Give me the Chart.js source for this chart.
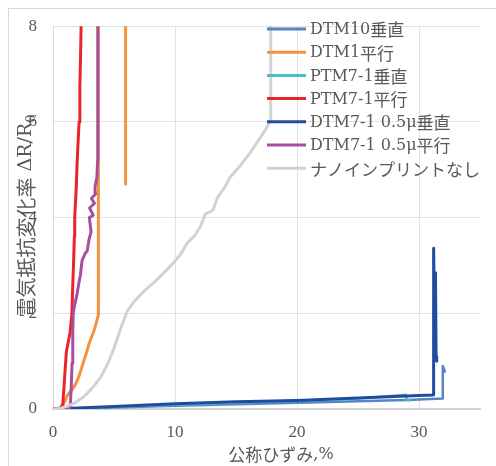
<!DOCTYPE html>
<html>
<head>
<meta charset="utf-8">
<script src="https://cdn.jsdelivr.net/npm/chart.js@4.4.1/dist/chart.umd.min.js"></script>
<style>
  html, body { margin: 0; padding: 0; background: #ffffff; }
  #wrap { width: 496px; height: 466px; position: relative; }
  canvas { display: block; }
</style>
</head>
<body>
<div id="wrap"><canvas id="c" width="496" height="466"></canvas></div>
<script>
// ---- Data ----
const seriesNames = ["DTM10垂直", "DTM1平行", "PTM7-1垂直", "PTM7-1平行", "DTM7-1 0.5μ垂直", "DTM7-1 0.5μ平行", "ナノインプリントなし"];
const xTicks = [0, 10, 20, 30];
const yTicks = [0, 2, 4, 6, 8];

const dtm10PerpX = [0, 1, 5, 10, 15, 20, 25, 29, 31.9, 31.95, 32.15];
const dtm10PerpY = [0, 0.0, 0.03, 0.07, 0.1, 0.13, 0.16, 0.19, 0.22, 0.9, 0.76];

const dtm1ParX = [0, 0.5, 0.75, 0.95, 1.2, 1.56, 1.85, 2.1, 2.3, 2.52, 2.75, 2.93, 3.15, 3.34, 3.55, 3.7, 3.72, 3.72, 5.95, 5.95];
const dtm1ParY = [0, 0.01, 0.05, 0.15, 0.3, 0.4, 0.52, 0.66, 0.82, 1.0, 1.18, 1.35, 1.5, 1.62, 1.8, 1.95, 2.05, 9, 9, 4.7];

const ptm71PerpX = [0, 1, 5, 10, 15, 20, 25, 28.5, 28.9, 29.0, 29.3];
const ptm71PerpY = [0, 0.0, 0.04, 0.09, 0.13, 0.17, 0.22, 0.29, 0.3, 0.19, 0.18];

const ptm71ParX = [0, 0.6, 0.8, 0.9, 1.0, 1.1, 1.25, 1.4, 1.55, 1.62, 1.68, 1.75, 1.78, 1.9, 1.97, 2.06, 2.14, 2.2, 2.26, 2.32];
const ptm71ParY = [0, 0.02, 0.1, 0.45, 0.85, 1.2, 1.4, 1.6, 2.0, 2.6, 3.0, 3.6, 4.0, 4.6, 5.1, 5.6, 6.0, 6.7, 7.4, 8.2];

const dtm71PerpX = [0, 1, 5, 10, 15, 20, 25, 30, 31.1, 31.15, 31.2, 31.3, 31.35, 31.4, 31.45];
const dtm71PerpY = [0, 0.01, 0.05, 0.11, 0.15, 0.18, 0.23, 0.28, 0.29, 0.3, 3.36, 1.07, 2.85, 1.1, 1.0];

const dtm71ParX = [0, 1.3, 1.42, 1.5, 1.56, 1.62, 1.66, 1.8, 1.97, 2.1, 2.25, 2.38, 2.63, 2.8, 2.96, 3.12, 2.98, 3.3, 3.0, 3.4, 3.15, 3.5, 3.45, 3.6, 3.66, 3.67];
const dtm71ParY = [0, 0.01, 0.05, 0.5, 0.95, 1.6, 2.0, 2.2, 2.4, 2.6, 2.8, 3.1, 3.25, 3.3, 3.55, 3.7, 4.0, 4.05, 4.2, 4.3, 4.4, 4.5, 4.65, 4.85, 5.2, 8.5];

const noImprintX = [0, 0.5, 1.1, 1.8, 2.5, 3.2, 3.9, 4.5, 5.0, 5.5, 6.1, 6.6, 7.4, 8.3, 9.1, 9.9, 10.5, 11.0, 11.6, 12.1, 12.5, 13.1, 13.5, 14.1, 14.5, 15.4, 16.2, 16.8, 17.4, 17.85, 17.85];
const noImprintY = [0, 0.01, 0.05, 0.13, 0.25, 0.43, 0.66, 0.95, 1.27, 1.65, 2.05, 2.23, 2.45, 2.65, 2.85, 3.06, 3.25, 3.47, 3.62, 3.82, 4.08, 4.15, 4.43, 4.64, 4.84, 5.1, 5.37, 5.6, 5.83, 6.05, 9];

// ---- Styling ----
const colors = ["#5585C5", "#F7923C", "#4BBFC6", "#E8252B", "#1F4C9E", "#A64FA0", "#D2D2D2"];
const widths = [2.5, 3, 2.5, 3, 3, 3, 3];
const allX = [dtm10PerpX, dtm1ParX, ptm71PerpX, ptm71ParX, dtm71PerpX, dtm71ParX, noImprintX];
const allY = [dtm10PerpY, dtm1ParY, ptm71PerpY, ptm71ParY, dtm71PerpY, dtm71ParY, noImprintY];

const textColor = "#595959";
const latinFont = "'DejaVu Serif', serif";
const cjkFont = "'Noto Sans CJK JP', sans-serif";

function toPoints(xs, ys) { return xs.map((x, i) => ({ x: x, y: ys[i] })); }

const datasets = seriesNames.map((name, i) => ({
  label: name,
  data: toPoints(allX[i], allY[i]),
  borderColor: colors[i],
  backgroundColor: colors[i],
  borderWidth: widths[i],
  pointRadius: 0,
  showLine: true,
  tension: 0,
  borderJoinStyle: "round",
  order: 20 - i
}));

// draw text as runs (CJK in CJK font, Latin in serif)
function splitRuns(s) {
  const re = /[\u3000-\u30ff\u3400-\u9fff\uff00-\uffef]+/g;
  const runs = []; let last = 0; let m;
  while ((m = re.exec(s)) !== null) {
    if (m.index > last) runs.push({ t: s.slice(last, m.index), cjk: false });
    runs.push({ t: m[0], cjk: true });
    last = m.index + m[0].length;
  }
  if (last < s.length) runs.push({ t: s.slice(last), cjk: false });
  return runs;
}
function runsWidth(ctx, runs, latinSize, cjkSize) {
  let w = 0;
  runs.forEach(r => {
    ctx.font = r.cjk ? (cjkSize + "px " + cjkFont) : (latinSize + "px " + latinFont);
    w += ctx.measureText(r.t).width;
  });
  return w;
}
function drawRuns(ctx, runs, x, y, latinSize, cjkSize) {
  ctx.textAlign = "left";
  runs.forEach(r => {
    ctx.font = r.cjk ? (cjkSize + "px " + cjkFont) : (latinSize + "px " + latinFont);
    ctx.fillText(r.t, x, y);
    x += ctx.measureText(r.t).width;
  });
  return x;
}

const decorPlugin = {
  id: "decor",
  beforeDraw(chart) {
    const ctx = chart.ctx;
    ctx.save();
    ctx.fillStyle = "#ffffff";
    ctx.fillRect(0, 0, chart.width, chart.height);
    ctx.strokeStyle = "#d9d9d9";
    ctx.lineWidth = 1;
    ctx.strokeRect(8.5, 8.5, 600, 600);
    ctx.restore();
  },
  afterDraw(chart) {
    const ctx = chart.ctx;
    ctx.save();
    ctx.fillStyle = textColor;
    ctx.textBaseline = "middle";

    // Legend inside plot area
    const lx0 = 267, lx1 = 306, tx = 310, ly0 = 29, dy = 23.2;
    seriesNames.forEach((name, i) => {
      const y = ly0 + i * dy;
      ctx.strokeStyle = colors[i];
      ctx.lineWidth = 3;
      ctx.beginPath();
      ctx.moveTo(lx0, y);
      ctx.lineTo(lx1, y);
      ctx.stroke();
      ctx.fillStyle = textColor;
      drawRuns(ctx, splitRuns(name), tx, y + 1, 16, 17);
    });

    // X axis title
    const xt = splitRuns("公称ひずみ,%");
    const xw = runsWidth(ctx, xt, 16, 17);
    drawRuns(ctx, xt, 281 - xw / 2, 455, 16, 17);

    // Y axis title (rotated) with subscript 0
    ctx.translate(26, 216);
    ctx.rotate(-Math.PI / 2);
    const yt = splitRuns("電気抵抗変化率 ΔR/R");
    const yw = runsWidth(ctx, yt, 19, 20);
    ctx.font = "13px " + latinFont;
    const sw = ctx.measureText("0").width;
    const total = yw + sw;
    const endX = drawRuns(ctx, yt, -total / 2, 0, 19, 20);
    ctx.font = "13px " + latinFont;
    ctx.fillText("0", endX, 6);
    ctx.restore();
  }
};

new Chart(document.getElementById("c"), {
  type: "scatter",
  data: { datasets: datasets },
  options: {
    responsive: false,
    animation: false,
    layout: { padding: { top: 19, right: 16, left: 0, bottom: 0 } },
    plugins: { legend: { display: false }, tooltip: { enabled: false } },
    scales: {
      x: {
        type: "linear",
        min: 0, max: 35,
        afterBuildTicks: s => { s.ticks = xTicks.map(v => ({ value: v })); },
        afterFit: s => { s.height = 57; },
        ticks: { color: textColor, font: { family: "'Liberation Serif', serif", size: 17 }, padding: 13, maxRotation: 0 },
        grid: { color: "#e2e2e2", lineWidth: 1, drawTicks: false },
        border: { color: "#d0d0d0", width: 2 }
      },
      y: {
        type: "linear",
        min: 0, max: 8,
        afterBuildTicks: s => { s.ticks = yTicks.map(v => ({ value: v })); },
        afterFit: s => { s.width = 53; },
        ticks: { color: textColor, font: { family: "'Liberation Serif', serif", size: 17 }, padding: 16 },
        grid: { color: "#e2e2e2", lineWidth: 1, drawTicks: false },
        border: { color: "#d9d9d9", width: 1 }
      }
    }
  },
  plugins: [decorPlugin]
});
</script>
</body>
</html>
